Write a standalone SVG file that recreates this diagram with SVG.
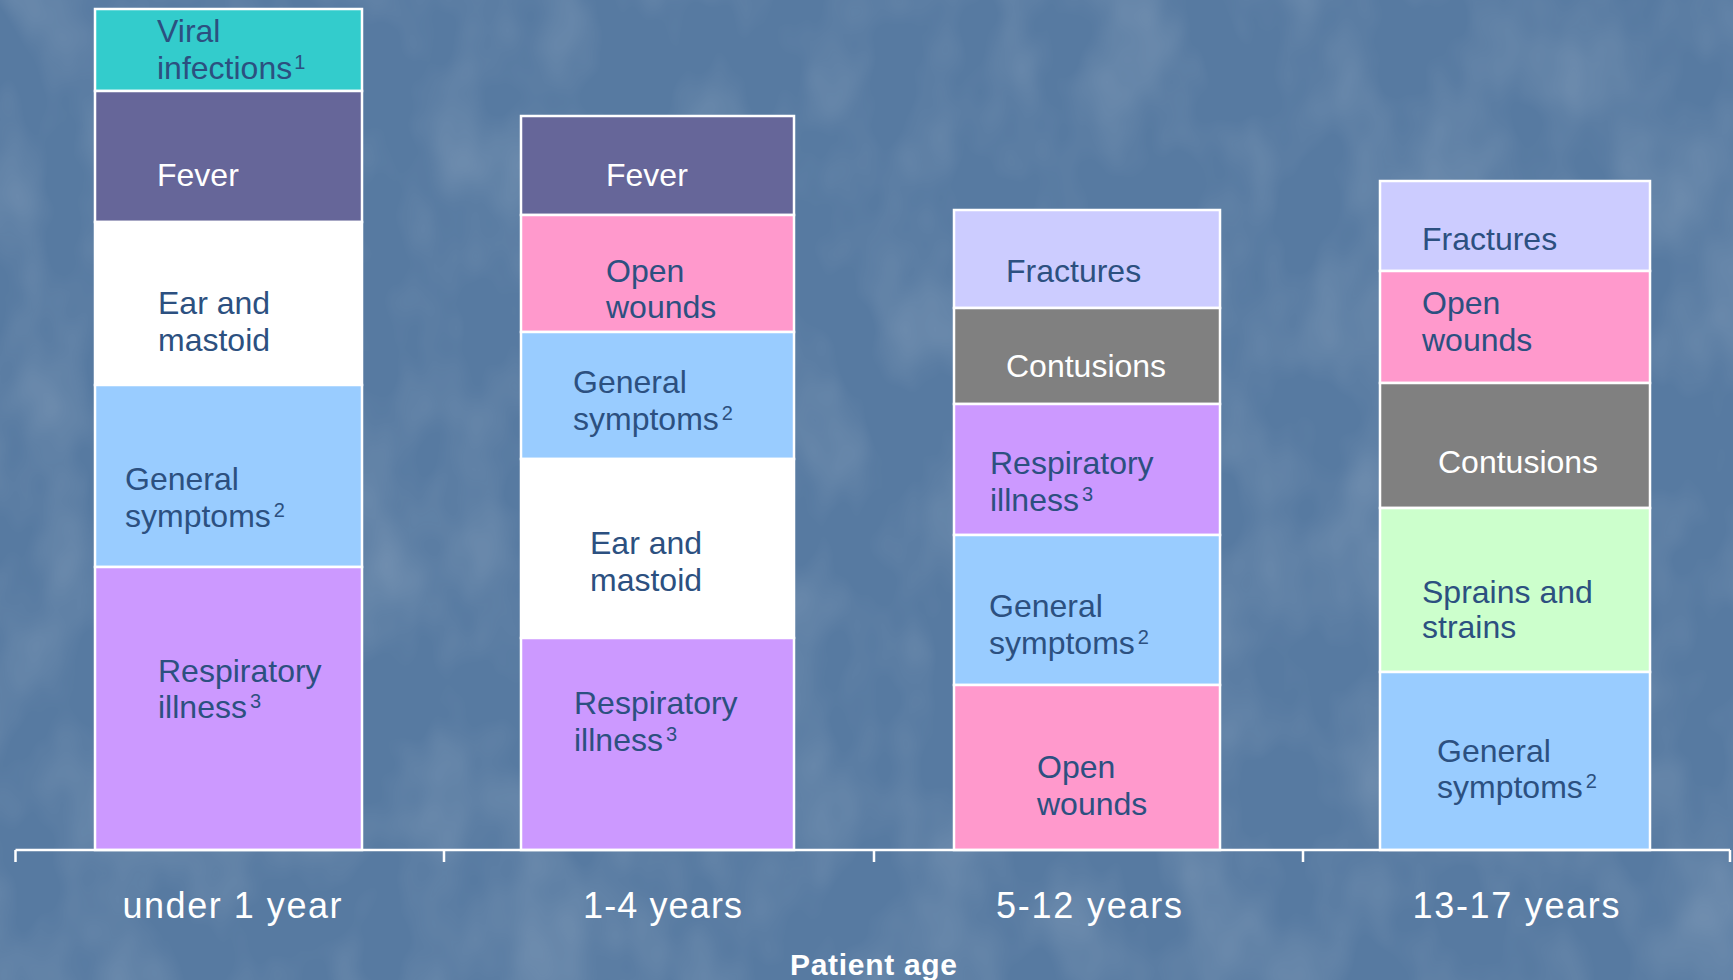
<svg xmlns="http://www.w3.org/2000/svg" width="1733" height="980" viewBox="0 0 1733 980">
<defs>
<filter id="tex" x="0" y="0" width="100%" height="100%">
<feTurbulence type="fractalNoise" baseFrequency="0.012 0.008" numOctaves="3" seed="7" result="n"/>
<feColorMatrix in="n" type="matrix" values="0 0 0 0 1  0 0 0 0 1  0 0 0 0 1  0 0 0 0.9 -0.35"/>
</filter>
<style>
.seg{stroke:#FFFFFF;stroke-width:2.5}
.lbl{font-family:"Liberation Sans",Arial,sans-serif;font-size:32px;fill:#2C5080}
.wht{fill:#FFFFFF}
.sup{font-size:20px}
.ax{font-family:"Liberation Sans",Arial,sans-serif;font-size:36px;fill:#FFFFFF;text-anchor:middle}
.axis{stroke:#FFFFFF;stroke-width:2.5;fill:none}
</style>
</defs>
<rect width="1733" height="980" fill="#577AA1"/>
<rect width="1733" height="980" filter="url(#tex)" opacity="0.3"/>

<g id="bar-under1">
<rect class="seg" x="95" y="9" width="267" height="82" fill="#33CCCC"/>
<rect class="seg" x="95" y="91" width="267" height="131" fill="#666699"/>
<rect class="seg" x="95" y="222" width="267" height="163" fill="#FFFFFF"/>
<rect class="seg" x="95" y="385" width="267" height="182" fill="#99CCFF"/>
<rect class="seg" x="95" y="567" width="267" height="283" fill="#CC99FF"/>
<text class="lbl" x="157" y="42">Viral</text>
<text class="lbl" x="157" y="79">infections<tspan class="sup" dx="2" dy="-10">1</tspan></text>
<text class="lbl wht" x="157" y="186">Fever</text>
<text class="lbl" x="158" y="314">Ear and</text>
<text class="lbl" x="158" y="351">mastoid</text>
<text class="lbl" x="125" y="490">General</text>
<text class="lbl" x="125" y="527">symptoms<tspan class="sup" dx="3" dy="-10">2</tspan></text>
<text class="lbl" x="158" y="682">Respiratory</text>
<text class="lbl" x="158" y="718">illness<tspan class="sup" dx="3" dy="-10">3</tspan></text>
</g>

<g id="bar-1to4">
<rect class="seg" x="521" y="116" width="273" height="99" fill="#666699"/>
<rect class="seg" x="521" y="215" width="273" height="117" fill="#FF99CC"/>
<rect class="seg" x="521" y="332" width="273" height="127" fill="#99CCFF"/>
<rect class="seg" x="521" y="459" width="273" height="179" fill="#FFFFFF"/>
<rect class="seg" x="521" y="638" width="273" height="212" fill="#CC99FF"/>
<text class="lbl wht" x="606" y="186">Fever</text>
<text class="lbl" x="606" y="282">Open</text>
<text class="lbl" x="606" y="318">wounds</text>
<text class="lbl" x="573" y="393">General</text>
<text class="lbl" x="573" y="430">symptoms<tspan class="sup" dx="3" dy="-10">2</tspan></text>
<text class="lbl" x="590" y="554">Ear and</text>
<text class="lbl" x="590" y="591">mastoid</text>
<text class="lbl" x="574" y="714">Respiratory</text>
<text class="lbl" x="574" y="751">illness<tspan class="sup" dx="3" dy="-10">3</tspan></text>
</g>

<g id="bar-5to12">
<rect class="seg" x="954" y="210" width="266" height="98" fill="#CCCCFF"/>
<rect class="seg" x="954" y="308" width="266" height="96" fill="#808080"/>
<rect class="seg" x="954" y="404" width="266" height="131" fill="#CC99FF"/>
<rect class="seg" x="954" y="535" width="266" height="150" fill="#99CCFF"/>
<rect class="seg" x="954" y="685" width="266" height="165" fill="#FF99CC"/>
<text class="lbl" x="1006" y="282">Fractures</text>
<text class="lbl wht" x="1006" y="377">Contusions</text>
<text class="lbl" x="990" y="474">Respiratory</text>
<text class="lbl" x="990" y="511">illness<tspan class="sup" dx="3" dy="-10">3</tspan></text>
<text class="lbl" x="989" y="617">General</text>
<text class="lbl" x="989" y="654">symptoms<tspan class="sup" dx="3" dy="-10">2</tspan></text>
<text class="lbl" x="1037" y="778">Open</text>
<text class="lbl" x="1037" y="815">wounds</text>
</g>

<g id="bar-13to17">
<rect class="seg" x="1380" y="181" width="270" height="90" fill="#CCCCFF"/>
<rect class="seg" x="1380" y="271" width="270" height="112" fill="#FF99CC"/>
<rect class="seg" x="1380" y="383" width="270" height="125" fill="#808080"/>
<rect class="seg" x="1380" y="508" width="270" height="164" fill="#CCFFCC"/>
<rect class="seg" x="1380" y="672" width="270" height="178" fill="#99CCFF"/>
<text class="lbl" x="1422" y="250">Fractures</text>
<text class="lbl" x="1422" y="314">Open</text>
<text class="lbl" x="1422" y="351">wounds</text>
<text class="lbl wht" x="1438" y="473">Contusions</text>
<text class="lbl" x="1422" y="603">Sprains and</text>
<text class="lbl" x="1422" y="638">strains</text>
<text class="lbl" x="1437" y="762">General</text>
<text class="lbl" x="1437" y="798">symptoms<tspan class="sup" dx="3" dy="-10">2</tspan></text>
</g>

<g id="axis">
<path class="axis" d="M15.5,850 H1730 M15.5,850 V862 M444,850 V862 M874,850 V862 M1303,850 V862 M1730,850 V862"/>
<text class="ax" x="232" y="918" textLength="219" lengthAdjust="spacing">under 1 year</text>
<text class="ax" x="662.5" y="918" textLength="159" lengthAdjust="spacing">1-4 years</text>
<text class="ax" x="1089" y="918" textLength="186" lengthAdjust="spacing">5-12 years</text>
<text class="ax" x="1516" y="918" textLength="207" lengthAdjust="spacing">13-17 years</text>
<text x="873.5" y="975" font-family="Liberation Sans,Arial,sans-serif" font-size="30" font-weight="bold" fill="#FFFFFF" text-anchor="middle" textLength="167" lengthAdjust="spacing">Patient age</text>
</g>
</svg>
